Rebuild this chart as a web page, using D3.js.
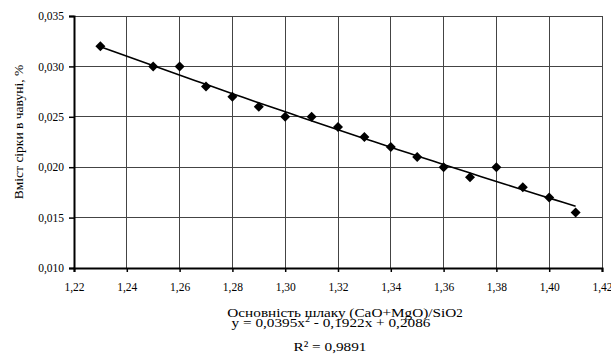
<!DOCTYPE html>
<html><head><meta charset="utf-8">
<script src="https://cdn.jsdelivr.net/npm/d3@7"></script>
<style>body{margin:0;background:#fff}svg{display:block;font-family:"Liberation Serif","Times New Roman",serif}</style>
</head><body>
<svg id="c" width="611" height="356"></svg>
<script>
const basicity = [1.23,1.25,1.26,1.27,1.28,1.29,1.30,1.31,1.32,1.33,1.34,1.35,1.36,1.37,1.38,1.39,1.40,1.41];
const sulfur   = [0.032,0.030,0.030,0.028,0.027,0.026,0.025,0.025,0.024,0.023,0.022,0.021,0.020,0.019,0.020,0.018,0.017,0.0155];
const xTicks = [1.22,1.24,1.26,1.28,1.30,1.32,1.34,1.36,1.38,1.40,1.42];
const yTicks = [0.010,0.015,0.020,0.025,0.030,0.035];
const trendCoef = [0.0395,-0.1922,0.2086];
const xTitle = "Основність шлаку (CaO+MgO)/SiO";
const yTitle = "Вміст сірки в чавуні, %";
const eqText = "y = 0,0395x";
const eqRest = " - 0,1922x + 0,2086";
const r2Text = "R² = 0,9891";

const svg = d3.select("#c");
const L=74,R=602,T=16,B=268;
const x = d3.scaleLinear().domain([1.22,1.42]).range([L,R]);
const y = d3.scaleLinear().domain([0.010,0.035]).range([B,T]);
const fmt = d => d.toFixed(2).replace(".",",");
const fmty = d => d.toFixed(3).replace(".",",");

// grid
svg.append("g").selectAll("line").data(yTicks.slice(1)).join("line")
  .attr("x1",L).attr("x2",R).attr("y1",d=>y(d)).attr("y2",d=>y(d))
  .attr("stroke","#444").attr("stroke-width",1).attr("shape-rendering","crispEdges");
svg.append("g").selectAll("line").data(xTicks.slice(1)).join("line")
  .attr("y1",T).attr("y2",B).attr("x1",d=>x(d)).attr("x2",d=>x(d))
  .attr("stroke","#444").attr("stroke-width",1).attr("shape-rendering","crispEdges");

// axes
const xa = svg.append("g").attr("transform",`translate(0,${B})`)
  .call(d3.axisBottom(x).tickValues(xTicks).tickFormat(fmt).tickSize(4).tickPadding(11));
const ya = svg.append("g").attr("transform",`translate(${L},0)`)
  .call(d3.axisLeft(y).tickValues(yTicks).tickFormat(fmty).tickSize(5).tickPadding(5));
[xa,ya].forEach(a=>{
  a.selectAll(".domain").attr("stroke","#000").attr("stroke-width",2);
  a.selectAll(".tick line").attr("stroke","#000").attr("stroke-width",1.5);
  a.selectAll("text").attr("font-family","Liberation Serif").attr("font-size",11.5).attr("fill","#000");
});

// trend line
const tx = d3.range(0,41).map(i=>1.23+i*(1.41-1.23)/40);
const line = d3.line().x(d=>x(d)).y(d=>y(trendCoef[0]*d*d+trendCoef[1]*d+trendCoef[2]));
svg.append("path").datum(tx).attr("d",line).attr("fill","none").attr("stroke","#000").attr("stroke-width",1.6);

// markers
const sym = d3.symbol().type(d3.symbolSquare).size(50);
svg.append("g").selectAll("path").data(basicity).join("path")
  .attr("d",sym).attr("transform",(d,i)=>`translate(${x(d)},${y(sulfur[i])}) rotate(45)`)
  .attr("fill","#000");

// titles
const xt = svg.append("text").attr("transform","translate(345,317) scale(1.13,1)").attr("text-anchor","middle")
  .attr("font-size",13.5).attr("fill","#000").text(xTitle);
xt.append("tspan").attr("font-size",11.5).text("2");
svg.append("text").attr("transform","translate(23,132) rotate(-90)").attr("text-anchor","middle")
  .attr("font-size",13.5).attr("fill","#000").text(yTitle);
const eq = svg.append("text").attr("transform","translate(331,327) scale(1.13,1)").attr("text-anchor","middle")
  .attr("font-size",13.5).attr("fill","#000").text(eqText);
eq.append("tspan").attr("dy",-5).attr("font-size",9).text("2");
eq.append("tspan").attr("dy",5).text(eqRest);
svg.append("text").attr("transform","translate(330,351) scale(1.13,1)").attr("text-anchor","middle")
  .attr("font-size",13.5).attr("fill","#000").text(r2Text);
</script>
</body></html>
